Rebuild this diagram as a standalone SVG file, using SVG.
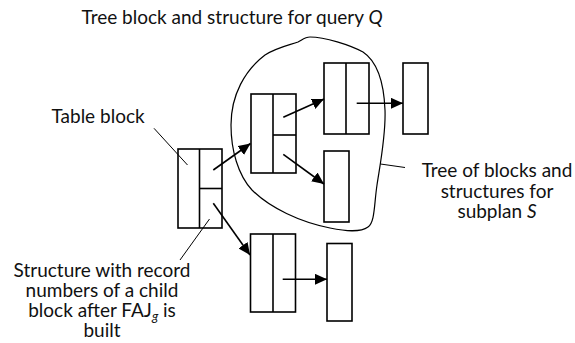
<svg xmlns="http://www.w3.org/2000/svg" width="575" height="343" viewBox="0 0 575 343">
<style>
.blk{fill:#fff;stroke:#000;stroke-width:1.6}
.div{stroke:#000;stroke-width:1.6;fill:none}
.arr{stroke:#000;stroke-width:1.6;fill:none;marker-end:url(#ah)}
.lead{stroke:#000;stroke-width:1;fill:none}
.blob{stroke:#000;stroke-width:1.2;fill:none}
text{font-family:Lato,"Liberation Sans",sans-serif;font-size:19px;fill:#111}
.c{text-anchor:middle}
</style>
<defs>
<marker id="ah" markerUnits="userSpaceOnUse" markerWidth="13" markerHeight="11" refX="12" refY="5.5" orient="auto">
<path d="M0,0 L12,5.5 L0,11 z" fill="#000"/>
</marker>
</defs>
<rect width="575" height="343" fill="#fff"/>
<g id="title"><text x="81.5" y="24">Tree block and structure for query <tspan font-style="italic">Q</tspan></text></g>
<g id="subplan-boundary"><path class="blob" d="M310,37 C325,37 350,45 363,52 C378,62 384,85 385,110 C386,135 380,165 377,185 C374,205 375,222 368,227 C360,233 345,231 330,228 C300,222 270,208 252,190 C238,175 231,150 231,125 C231,95 245,70 265,55 C278,47 290,45 298,42 C302,40 305,37 310,37 Z"/></g>
<g id="table-block">
<rect class="blk" x="178" y="149" width="44" height="79"/>
<line class="div" x1="199.5" y1="149" x2="199.5" y2="228"/>
<line class="div" x1="199.5" y1="188.5" x2="222" y2="188.5"/>
</g>
<g id="tree-block-mid">
<rect class="blk" x="251" y="94" width="45" height="79"/>
<line class="div" x1="273" y1="94" x2="273" y2="173"/>
<line class="div" x1="273" y1="135" x2="296" y2="135"/>
</g>
<g id="tree-block-top">
<rect class="blk" x="324" y="63" width="45" height="71"/>
<line class="div" x1="346" y1="63" x2="346" y2="134"/>
</g>
<g id="structure-top"><rect class="blk" x="403" y="63" width="25" height="71"/></g>
<g id="structure-mid"><rect class="blk" x="324" y="151" width="25" height="71"/></g>
<g id="child-block">
<rect class="blk" x="250.5" y="234" width="45" height="78"/>
<line class="div" x1="273" y1="234" x2="273" y2="312"/>
</g>
<g id="structure-child"><rect class="blk" x="327" y="243.5" width="25" height="77.5"/></g>
<g id="connectors">
<line class="arr" x1="213.3" y1="170" x2="250.5" y2="143.5"/>
<line class="arr" x1="283.3" y1="117.3" x2="324" y2="99"/>
<line class="arr" x1="283.3" y1="154.3" x2="324" y2="184"/>
<line class="arr" x1="356.7" y1="103.3" x2="403" y2="103.3"/>
<line class="arr" x1="213.3" y1="203.3" x2="250" y2="255"/>
<line class="arr" x1="282.7" y1="279.3" x2="327" y2="279.3"/>
<line class="lead" x1="154" y1="128.3" x2="187.5" y2="165"/>
<line class="lead" x1="209.5" y1="219" x2="180" y2="260"/>
<line class="lead" x1="380.5" y1="164" x2="405" y2="167.5"/>
</g>
<g id="label-table"><text x="51.5" y="123">Table block</text></g>
<g id="label-structure">
<text class="c" x="102" y="276.5">Structure with record</text>
<text class="c" x="102" y="296.8">numbers of a child</text>
<text class="c" x="102" y="317">block after FAJ<tspan font-style="italic" font-size="13" dy="4">g</tspan><tspan dy="-4"> is</tspan></text>
<text class="c" x="102" y="337.3">built</text>
</g>
<g id="label-tree">
<text class="c" x="497" y="176.8">Tree of blocks and</text>
<text class="c" x="497" y="197.5">structures for</text>
<text class="c" x="497" y="217.6">subplan <tspan font-style="italic">S</tspan></text>
</g>
</svg>
